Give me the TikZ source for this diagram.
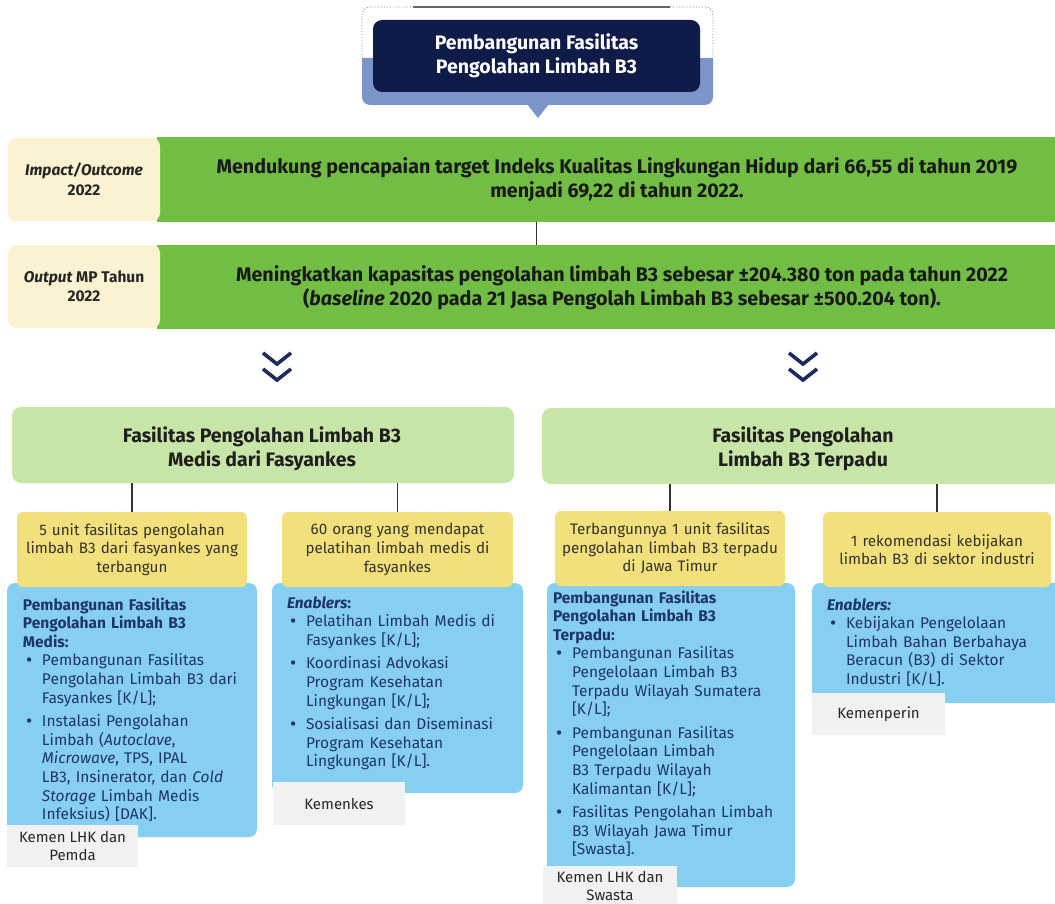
\documentclass[tikz,border=0pt]{standalone}
\usepackage{fontspec}
\setmainfont{Fira Sans}
\definecolor{navy}{HTML}{0F1C4A}
\definecolor{steel}{HTML}{7C95C9}
\definecolor{cream}{HTML}{FBF2D2}
\definecolor{bgreen}{HTML}{72BE44}
\definecolor{lgreen}{HTML}{C8E5A8}
\definecolor{yel}{HTML}{F2E07C}
\definecolor{sky}{HTML}{86CFF0}
\definecolor{lab}{HTML}{F1F1F1}
\definecolor{chevc}{HTML}{1D2A5E}
\definecolor{btext}{HTML}{1E3566}
\definecolor{ytext}{HTML}{333328}
\newcommand{\bdot}{\raisebox{-0.8pt}{\fontsize{19}{19}\selectfont\textbullet}}
\newcommand{\bpt}[1]{\par\leftskip=19pt\noindent\llap{\makebox[19pt][l]{\hspace{3pt}\bdot}}#1\par}
\newcommand{\bgap}{\vspace{5pt}}
\begin{document}
\begin{tikzpicture}[x=1pt,y=-1pt,
  every node/.style={inner sep=0pt, outer sep=0pt},
  titlebox/.style={anchor=north west, fill=navy, rounded corners=9pt, minimum width=327pt, minimum height=72pt, text=white, font=\fontsize{19.5}{24}\selectfont\bfseries, align=center},
  band/.style={anchor=north west, fill=bgreen, minimum width=898pt},
  bandtxt/.style={font=\fontsize{19.7}{24}\selectfont\bfseries, align=center, text=black!90},
  creambox/.style={anchor=north west, fill=cream, rounded corners=8pt, minimum width=152pt, minimum height=83pt, font=\fontsize{15.5}{19.5}\selectfont\bfseries, align=center, text=black!85},
  catbox/.style={anchor=north west, fill=lgreen, rounded corners=9pt, minimum height=76pt},
  cattxt/.style={font=\fontsize{19.5}{23.5}\selectfont\bfseries, align=center, text=black!88},
  yelbox/.style={anchor=north west, fill=yel, rounded corners=6pt, minimum height=75pt, font=\fontsize{15.2}{18.6}\selectfont, align=center, text=ytext},
  skybox/.style={anchor=north west, fill=sky, rounded corners=8pt},
  skytxt/.style={anchor=base west, text width=250pt, font=\fontsize{15.5}{18.6}\selectfont, text=btext},
  labbox/.style={anchor=north west, fill=lab, minimum width=131pt, font=\fontsize{15}{18.5}\selectfont, align=center, text=black!85},
  conn/.style={draw=black!80, line width=1.5pt},
  chev/.style={draw=chevc, line width=3.6pt, line join=miter}
]
\useasboundingbox[fill=white] (0,0) rectangle (1055,904);

% ---------- header ----------
\draw[dotted, gray, line width=0.9pt, rounded corners=8pt] (362,58) -- (362,7) -- (413,7);
\draw[black!60, line width=1.1pt] (413,7) -- (670,7);
\draw[dotted, gray, line width=0.9pt, rounded corners=8pt] (670,7) -- (713,7) -- (713,58);
\fill[steel] (362,58) [rounded corners=8pt] -- (362,105) -- (713,105) [sharp corners] -- (713,58) -- cycle;
\fill[steel] (527,104) -- (549,104) -- (538,118) -- cycle;
\node[titlebox] (title) at (373,20) {Pembangunan Fasilitas\\Pengolahan Limbah B3};

% ---------- bands ----------
\node[band, minimum height=85pt] (band1) at (157,137) {};
\node[bandtxt] (band1t) at (617,180) {Mendukung pencapaian target Indeks Kualitas Lingkungan Hidup dari 66,55 di tahun 2019\\menjadi 69,22 di tahun 2022.};
\node[creambox] (imp) at (8,138) {\textit{Impact/Outcome}\\2022};

\node[band, minimum height=84pt] (band2) at (157,245) {};
\node[bandtxt] (band2t) at (622,288) {Meningkatkan kapasitas pengolahan limbah B3 sebesar ±204.380 ton pada tahun 2022\\(\textit{baseline} 2020 pada 21 Jasa Pengolah Limbah B3 sebesar ±500.204 ton).};
\node[creambox] (outp) at (8,245) {\textit{Output} MP Tahun\\2022};

\draw[conn] (band1.south -| title.south) -- (band2.north -| title.south);

% ---------- chevrons ----------
\draw[chev] (263,353) -- (277,364) -- (291,353);
\draw[chev] (263,369) -- (277,380) -- (291,369);
\draw[chev] (789,353) -- (803,364) -- (817,353);
\draw[chev] (789,369) -- (803,380) -- (817,369);

% ---------- categories ----------
\node[catbox, minimum width=502pt] (catL) at (12,407) {};
\node[cattxt] (catLt) at (262,449) {Fasilitas Pengolahan Limbah B3\\Medis dari Fasyankes};
\node[catbox, minimum width=520pt] (catR) at (542,408) {};
\node[cattxt] (catRt) at (803,449) {Fasilitas Pengolahan\\Limbah B3 Terpadu};

% ---------- sky boxes ----------
\node[skybox, minimum width=250pt, minimum height=254pt] (s1) at (7,583) {};
\node[skybox, minimum width=251pt, minimum height=210pt] (s2) at (272,583) {};
\node[skybox, minimum width=248pt, minimum height=304pt] (s3) at (547,583) {};
\node[skybox, minimum width=250pt, minimum height=120pt] (s4) at (812,583) {};

% ---------- yellow boxes ----------
\node[yelbox, minimum width=230pt, text width=230pt] (y1) at (17,512) {5 unit fasilitas pengolahan\\limbah B3 dari fasyankes yang\\terbangun};
\node[yelbox, minimum width=231pt, text width=231pt] (y2) at (282,512) {60 orang yang mendapat\\pelatihan limbah medis di\\fasyankes};
\node[yelbox, minimum width=230pt, text width=230pt] (y3) at (555,511) {Terbangunnya 1 unit fasilitas\\pengolahan limbah B3 terpadu\\di Jawa Timur};
\node[yelbox, minimum width=228pt, text width=228pt] (y4) at (823,512) {1 rekomendasi kebijakan\\limbah B3 di sektor industri};

\draw[conn] (y1.north |- catL.south) -- (y1.north);
\draw[conn] (y2.north |- catL.south) -- (y2.north);
\draw[conn] (y3.north |- catR.south) -- (y3.north);
\draw[conn] (y4.north |- catR.south) -- (y4.north);

% ---------- sky texts ----------
\node[skytxt] (s1t) at (23,610) {\raggedright\textbf{Pembangunan Fasilitas\newline Pengolahan Limbah B3\newline Medis:}
\bpt{Pembangunan Fasilitas\newline Pengolahan Limbah B3 dari\newline Fasyankes [K/L];}\bgap
\bpt{Instalasi Pengolahan\newline Limbah (\textit{Autoclave},\newline \textit{Microwave}, TPS, IPAL\newline LB3, Insinerator, dan \textit{Cold}\newline \textit{Storage} Limbah Medis\newline Infeksius) [DAK].}};

\node[skytxt] (s2t) at (287,608) {\raggedright\textbf{\textit{Enablers}:}
\bpt{Pelatihan Limbah Medis di\newline Fasyankes [K/L];}\bgap
\bpt{Koordinasi Advokasi\newline Program Kesehatan\newline Lingkungan [K/L];}\bgap
\bpt{Sosialisasi dan Diseminasi\newline Program Kesehatan\newline Lingkungan [K/L].}};

\node[skytxt] (s3t) at (553,603) {\raggedright\textbf{Pembangunan Fasilitas\newline Pengolahan Limbah B3\newline Terpadu:}
\bpt{Pembangunan Fasilitas\newline Pengelolaan Limbah B3\newline Terpadu Wilayah Sumatera\newline {[K/L];}}\bgap
\bpt{Pembangunan Fasilitas\newline Pengelolaan Limbah\newline B3 Terpadu Wilayah\newline Kalimantan [K/L];}\bgap
\bpt{Fasilitas Pengolahan Limbah\newline B3 Wilayah Jawa Timur\newline {[Swasta].}}};

\node[skytxt] (s4t) at (827,610) {\raggedright\textbf{\textit{Enablers:}}
\bpt{Kebijakan Pengelolaan\newline Limbah Bahan Berbahaya\newline Beracun (B3) di Sektor\newline Industri [K/L].}};

% ---------- labels ----------
\node[labbox, minimum height=42pt] (l1) at (7,825) {Kemen LHK dan\\Pemda};
\node[labbox, minimum height=43pt, minimum width=132pt] (l2) at (273,782) {Kemenkes};
\node[labbox, minimum height=40pt, minimum width=134pt] (l3) at (543,866) {Kemen LHK dan\\Swasta};
\node[labbox, minimum height=42pt, minimum width=133pt] (l4) at (812,693) {Kemenperin};
\end{tikzpicture}
\end{document}
